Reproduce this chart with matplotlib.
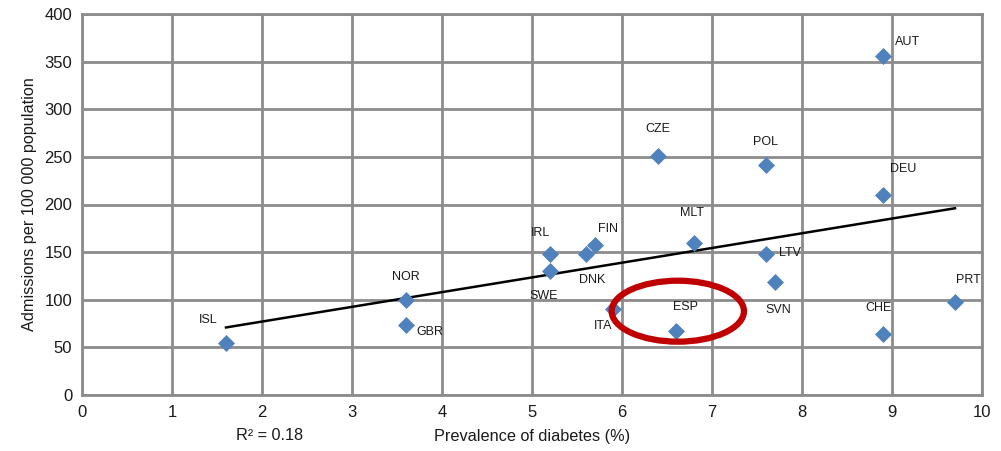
import numpy as np
import matplotlib.pyplot as plt
from matplotlib.patches import Ellipse

plt.rcParams['font.family'] = ['Liberation Sans', 'DejaVu Sans']

# Data: prevalence of diabetes (%) vs admissions per 100 000
countries = ['ISL', 'NOR', 'GBR', 'IRL', 'SWE', 'DNK', 'FIN', 'ITA', 'CZE', 'ESP',
             'MLT', 'POL', 'LTV', 'SVN', 'AUT', 'DEU', 'CHE', 'PRT']
prevalence = [1.6, 3.6, 3.6, 5.2, 5.2, 5.6, 5.7, 5.9, 6.4, 6.6,
              6.8, 7.6, 7.6, 7.7, 8.9, 8.9, 8.9, 9.7]
admissions = [55, 100, 74, 148, 130, 148, 157, 90, 251, 67,
              160, 241, 148, 119, 356, 210, 64, 98]
# label offsets in pixels (dx, dy)
label_offsets = {'ISL': (-18, 23), 'NOR': (0, 23), 'GBR': (24, -7), 'IRL': (-10, 21),
                 'SWE': (-6, -25), 'DNK': (6, -26), 'FIN': (13, 16), 'ITA': (-10, -17),
                 'CZE': (0, 27), 'ESP': (9, 24), 'MLT': (-2, 30), 'POL': (0, 23),
                 'LTV': (24, 1), 'SVN': (3, -28), 'AUT': (25, 14), 'DEU': (20, 26),
                 'CHE': (-5, 26), 'PRT': (13, 22)}

x = np.array(prevalence)
y = np.array(admissions)

fig = plt.figure(figsize=(10.01, 4.51), dpi=100)
ax = fig.add_axes([82/1001, 56/451, 900/1001, 381/451])

ax.set_xlim(0, 10)
ax.set_ylim(0, 400)
ax.set_xticks(range(0, 11))
ax.set_yticks(range(0, 401, 50))
ax.grid(True, color='#8c8c8c', linewidth=2)
ax.set_axisbelow(True)
for s in ax.spines.values():
    s.set_color('#8c8c8c')
    s.set_linewidth(2)
ax.tick_params(length=0, labelsize=12, colors='#1a1a1a', pad=7)

# linear trend
slope, intercept = np.polyfit(x, y, 1)
xs = np.array([x.min(), x.max()])
ax.plot(xs, slope * xs + intercept, color='black', linewidth=1.8, zorder=3)

ax.scatter(x, y, marker='D', s=75, color='#4f81bd', zorder=4, linewidths=0)

for c, xi, yi in zip(countries, x, y):
    dx, dy = label_offsets[c]
    ax.annotate(c, (xi, yi), xytext=(dx, dy), textcoords='offset pixels',
                ha='center', va='center', fontsize=9, color='#1a1a1a', zorder=5)

# highlight Spain
ax.add_patch(Ellipse((6.62, 88), 1.47, 64, fill=False, edgecolor='#c00000',
                     linewidth=4.5, zorder=6))

ax.set_xlabel('Prevalence of diabetes (%)', fontsize=11.7, labelpad=7, color='#1a1a1a')
ax.set_ylabel('Admissions per 100 000 population', fontsize=11.7, labelpad=5, color='#1a1a1a')
fig.text(270/1001, 1 - 435/451, 'R² = 0.18', ha='center', va='center', fontsize=11.7,
         color='#1a1a1a')

fig.savefig('out.png', dpi=100, facecolor='white')
